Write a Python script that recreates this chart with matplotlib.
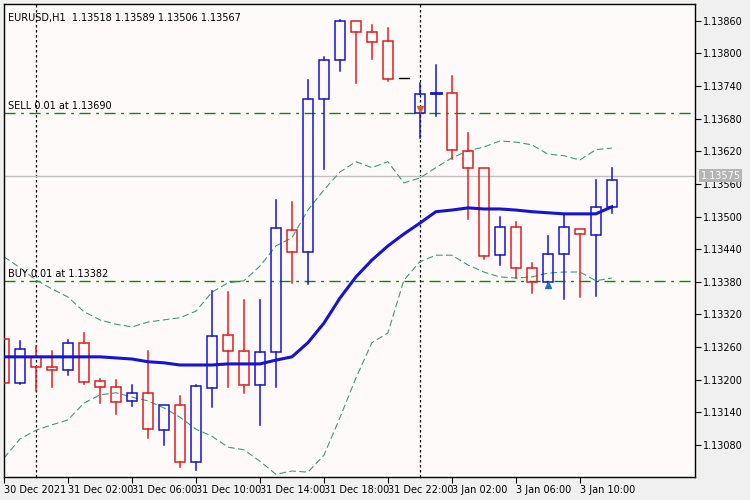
import matplotlib
matplotlib.use("Agg")
import matplotlib.pyplot as plt
from matplotlib.patches import Rectangle
import numpy as np

# EURUSD H1 candles (prices in 1e-5 units)
opens = [113275, 113194, 113242, 113223, 113218, 113268, 113198, 113187, 113161, 113176,
         113107, 113153, 113049, 113185, 113282, 113253, 113190, 113251, 113475, 113435,
         113716, 113788, 113860, 113840, 113823, 113755, 113691, 113726, 113728, 113621,
         113590, 113429, 113481, 113406, 113380, 113431, 113477, 113466, 113518]
highs = [113275, 113271, 113262, 113253, 113273, 113286, 113201, 113199, 113190, 113253,
         113153, 113170, 113190, 113363, 113361, 113347, 113347, 113531, 113527, 113751,
         113794, 113862, 113860, 113853, 113847, 113755, 113746, 113779, 113759, 113654,
         113590, 113499, 113490, 113415, 113464, 113503, 113477, 113567, 113589]
lows = [113194, 113192, 113179, 113187, 113209, 113192, 113157, 113137, 113152, 113093,
        113080, 113039, 113034, 113150, 113187, 113176, 113117, 113187, 113378, 113376,
        113588, 113768, 113746, 113790, 113750, 113755, 113645, 113685, 113606, 113496,
        113422, 113411, 113387, 113360, 113374, 113348, 113352, 113354, 113506]
closes = [113194, 113256, 113223, 113218, 113268, 113196, 113187, 113159, 113176, 113109,
          113153, 113049, 113188, 113280, 113253, 113190, 113251, 113479, 113435, 113716,
          113788, 113860, 113840, 113821, 113753, 113755, 113726, 113728, 113623, 113590,
          113428, 113481, 113406, 113380, 113431, 113481, 113468, 113518, 113567]
ma = [113242, 113242, 113242, 113242, 113242, 113242, 113242, 113240, 113238, 113233,
      113231, 113227, 113227, 113227, 113229, 113229, 113229, 113236, 113242, 113268,
      113304, 113350, 113389, 113420, 113446, 113468, 113488, 113509, 113512, 113516,
      113514, 113514, 113512, 113509, 113507, 113505, 113505, 113505, 113518]
bb_upper = [113426, 113406, 113383, 113367, 113352, 113325, 113310, 113302, 113297, 113306,
            113310, 113314, 113326, 113361, 113378, 113382, 113409, 113446, 113461, 113512,
            113549, 113582, 113601, 113590, 113601, 113562, 113571, 113590, 113608, 113621,
            113628, 113639, 113637, 113632, 113615, 113612, 113604, 113623, 113626]
bb_lower = [113056, 113091, 113107, 113117, 113126, 113157, 113172, 113176, 113168, 113161,
            113148, 113131, 113109, 113096, 113076, 113071, 113050, 113026, 113032, 113030,
            113061, 113130, 113203, 113268, 113286, 113383, 113417, 113429, 113429, 113411,
            113398, 113389, 113387, 113389, 113396, 113398, 113398, 113382, 113387]

time_ticks = [0, 4, 8, 12, 16, 20, 24, 28, 32, 36]
time_labels = ["30 Dec 2021", "31 Dec 02:00", "31 Dec 06:00", "31 Dec 10:00", "31 Dec 14:00",
               "31 Dec 18:00", "31 Dec 22:00", "3 Jan 02:00", "3 Jan 06:00", "3 Jan 10:00"]
day_separators = [2, 26]
price_ticks = [1.13080, 1.13140, 1.13200, 1.13260, 1.13320, 1.13380,
               1.13440, 1.13500, 1.13560, 1.13620, 1.13680, 1.13740, 1.13800, 1.13860]
sell_price, buy_price, bid_price = 1.13690, 1.13382, 1.13575
sell_idx, sell_mark = 26, 1.13698
buy_idx, buy_mark = 34, 1.13374

sc = 1e-5
o, h, l, c = [np.array(a) * sc for a in (opens, highs, lows, closes)]
x = np.arange(len(o))

BLUE = "#1414d2"
RED = "#e01e1e"
GREEN = "#0a8a0a"
BAND = "#3c9c7c"

fig = plt.figure(figsize=(7.5, 5), dpi=100, facecolor="#f0f0f0")
ax = fig.add_axes([4 / 750, 1 - 477 / 500, 691 / 750, 473 / 500])
ax.set_facecolor("#fffafa")
plt.rcParams['font.family'] = ['DejaVu Sans']

for s in day_separators:
    ax.axvline(s, color="black", ls=(0, (2, 2)), lw=0.9, zorder=1)

ax.axhline(bid_price, color="#c0c0c0", lw=1, zorder=1)
ax.axhline(sell_price, color=GREEN, ls=(0, (8, 4, 2, 4)), lw=1, zorder=2)
ax.axhline(buy_price, color=GREEN, ls=(0, (8, 4, 2, 4)), lw=1, zorder=2)

ax.plot(x, np.array(bb_upper) * sc, color=BAND, lw=0.8, ls=(0, (6, 3)), zorder=2)
ax.plot(x, np.array(bb_lower) * sc, color=BAND, lw=0.8, ls=(0, (6, 3)), zorder=2)

w = 0.62
for i in range(len(o)):
    if c[i] > o[i]:
        col = BLUE
    elif c[i] < o[i]:
        col = RED
    else:
        col = "black"
    top, bot = max(o[i], c[i]), min(o[i], c[i])
    ax.plot([x[i], x[i]], [top, h[i]], color=col, lw=1.1, zorder=3)
    ax.plot([x[i], x[i]], [l[i], bot], color=col, lw=1.1, zorder=3)
    if top - bot < 3e-5:
        ax.plot([x[i] - w / 2, x[i] + w / 2], [c[i], c[i]], color=col, lw=2 if col != "black" else 1, zorder=3)
    else:
        ax.add_patch(Rectangle((x[i] - w / 2, bot), w, top - bot, fill=False,
                               edgecolor=col, lw=1.1, zorder=3))

ax.plot(x, np.array(ma) * sc, color=BLUE, lw=2.2, zorder=4)

ax.plot(sell_idx, sell_mark, marker="v", color="#e05a1e", ms=5, zorder=5)
ax.plot(buy_idx, buy_mark, marker="^", color="#1e6ec8", ms=5, zorder=5)

ax.set_xlim(0, 43.2)
ax.set_ylim(1.13021, 1.13891)

ax.text(0.006, 0.982, "EURUSD,H1  1.13518 1.13589 1.13506 1.13567", transform=ax.transAxes,
        fontsize=7, va="top", ha="left")
ax.text(0.25, sell_price + 0.00004, "SELL 0.01 at 1.13690", fontsize=7, va="bottom")
ax.text(0.25, buy_price + 0.00004, "BUY 0.01 at 1.13382", fontsize=7, va="bottom")

ax.yaxis.tick_right()
ax.set_yticks(price_ticks)
ax.set_yticklabels([f"{p:.5f}" for p in price_ticks])
ax.set_xticks(time_ticks)
ax.set_xticklabels(time_labels, ha="left")
ax.tick_params(axis="both", labelsize=7, length=4, direction="out", pad=2)
ax.text(1.008, bid_price, f"{bid_price:.5f}", transform=ax.get_yaxis_transform(), fontsize=7,
        color="white", va="center", ha="left",
        bbox=dict(boxstyle="square,pad=0.15", fc="#b4b4b4", ec="none"))
for sp in ax.spines.values():
    sp.set_linewidth(1)

fig.savefig("out.png", dpi=100, facecolor=fig.get_facecolor())
